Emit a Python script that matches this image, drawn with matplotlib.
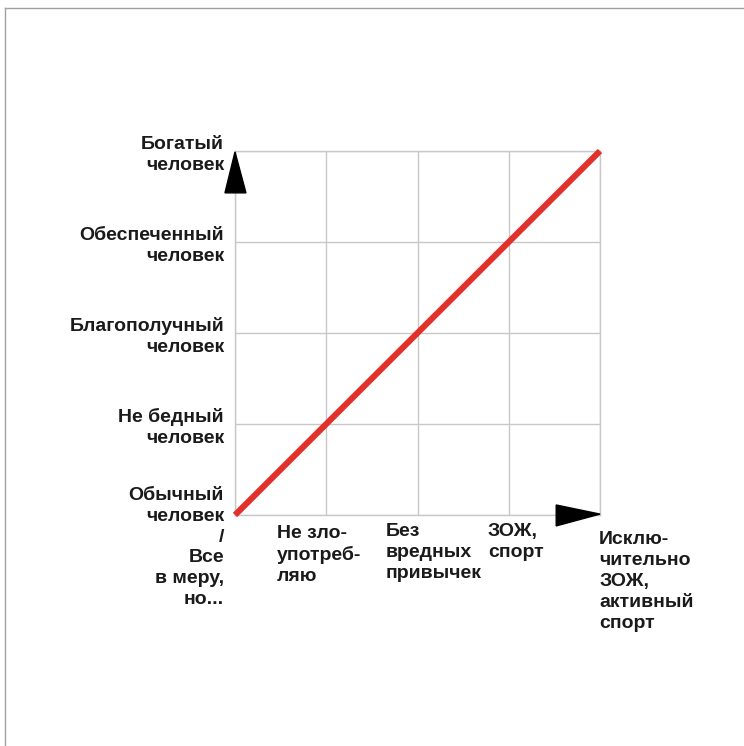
import matplotlib.pyplot as plt
from matplotlib.lines import Line2D

plt.rcParams['font.family'] = ['Liberation Sans', 'DejaVu Sans']

# levels on both axes (lifestyle -> wealth)
lifestyle = [0, 1, 2, 3, 4]
wealth = [0, 1, 2, 3, 4]

wealth_labels = ['Не бедный\nчеловек', 'Благополучный\nчеловек',
                 'Обеспеченный\nчеловек', 'Богатый\nчеловек']
base_label = 'Обычный\nчеловек\n/\nВсе\nв меру,\nно...'
life_labels = ['Не зло-\nупотреб-\nляю', 'Без\nвредных\nпривычек',
               'ЗОЖ,\nспорт', 'Исклю-\nчительно\nЗОЖ,\nактивный\nспорт']

# where the x labels start (left edge, in data units) and their tops
life_x = [0.46, 1.65, 2.77, 3.99]
life_top = [-0.11, -0.09, -0.09, -0.18]

W, H = 744, 746
fig = plt.figure(figsize=(W / 100, H / 100), dpi=100)
ax = fig.add_axes([235 / W, 1 - 515 / H, 365 / W, 364 / H])

# thin page frame (top and left)
fig.add_artist(Line2D([5 / W, 1], [1 - 8 / H, 1 - 8 / H], color='#a0a0a0', lw=1))
fig.add_artist(Line2D([5 / W, 5 / W], [0, 1 - 8 / H], color='#a0a0a0', lw=1))

ax.set_xlim(0, 4)
ax.set_ylim(0, 4)
ax.set_xticks(lifestyle)
ax.set_yticks(wealth)
ax.grid(True, color='#c8c8c8', lw=1)
ax.tick_params(length=0, labelbottom=False, labelleft=False)
for s in ax.spines.values():
    s.set_color('#c8c8c8')
    s.set_linewidth(1)

ax.plot(lifestyle, wealth, color='#e2312b', lw=4.4, solid_capstyle='butt',
        clip_on=False, zorder=5)

# arrow heads
ax.fill([-0.11, 0.0, 0.12], [3.54, 3.99, 3.54], color='black', clip_on=False, zorder=6)
ax.fill([3.52, 4.0, 3.52], [0.11, 0.01, -0.12], color='black', clip_on=False, zorder=6)

txt = dict(fontsize=14, fontweight='bold', color='#1a1a1a', linespacing=1.3)
for lvl, lab in zip(wealth[1:], wealth_labels):
    ax.text(-0.12, lvl - 0.04, lab, ha='right', va='center',
            multialignment='right', **txt)
ax.text(-0.12, 0.31, base_label, ha='right', va='top', multialignment='right', **txt)

for x, top, lab in zip(life_x, life_top, life_labels):
    ax.text(x, top, lab, ha='left', va='top', **txt)

fig.savefig('out.png', dpi=100, facecolor='white')
